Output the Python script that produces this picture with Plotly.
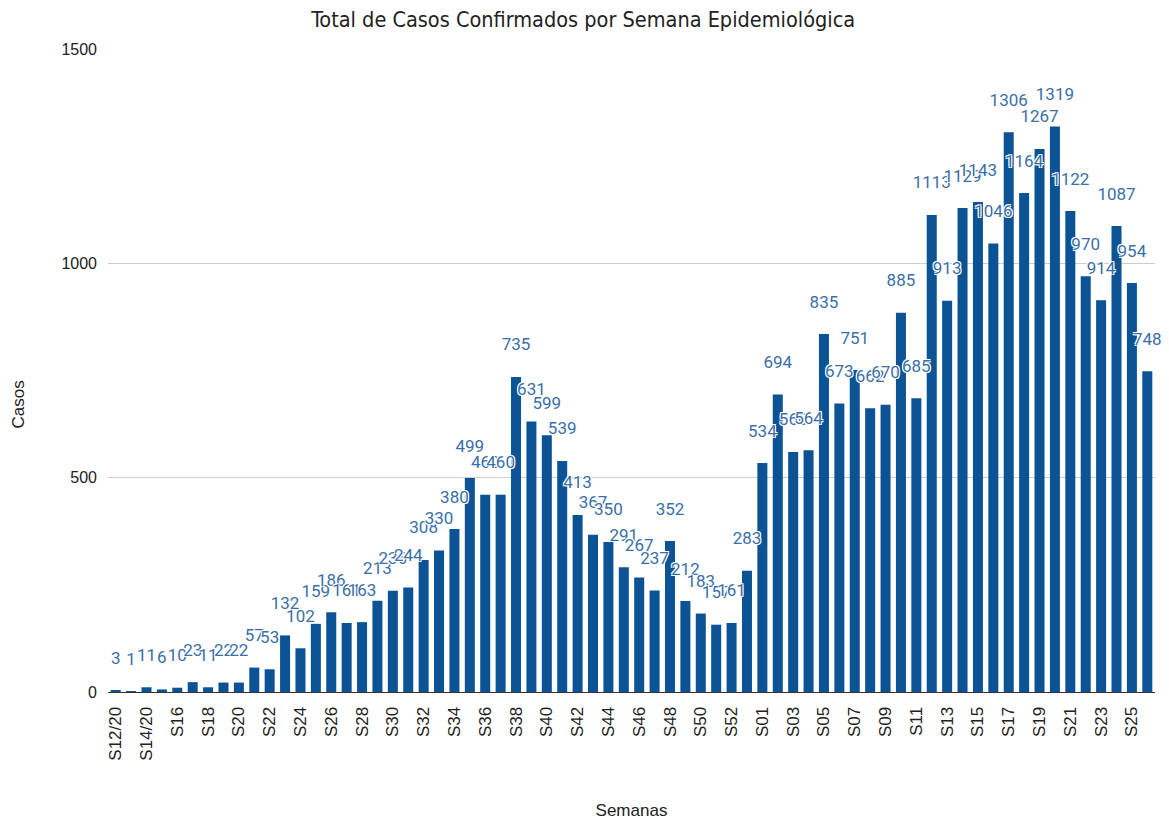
import plotly.graph_objects as go

semanas = (["S12/20", "S13/20", "S14/20"]
           + [f"S{i}/20" for i in range(15, 54)]
           + [f"S{i:02d}/21" for i in range(1, 27)])

casos = [3, 1, 11, 6, 10, 23, 11, 22, 22, 57, 53, 132, 102, 159, 186, 161, 163,
         213, 236, 244, 308, 330, 380, 499, 460, 460, 735, 631, 599, 539, 413,
         367, 350, 291, 267, 237, 352, 212, 183, 157, 161, 283,
         534, 694, 560, 564, 835, 673, 751, 662, 670, 885, 685,
         1113, 913, 1129, 1143, 1046, 1306, 1164, 1267, 1319, 1122, 970, 914,
         1087, 954, 748]

tick_vals = semanas[::2]
tick_text = [s if s in ("S12/20", "S14/20") else s.split("/")[0] for s in tick_vals]
y_ticks = [0, 500, 1000, 1500]

bar_color = "#0b5394"
label_color = "#3a6fa8"
axis_font = "Liberation Sans, Arial"

fig = go.Figure()
fig.add_trace(go.Bar(
    x=semanas, y=casos,
    marker=dict(color=bar_color, line=dict(width=0)),
    hoverinfo="x+y",
))
fig.add_trace(go.Scatter(
    x=semanas, y=casos,
    mode="markers+text",
    marker=dict(size=34, opacity=0),
    text=[str(v) for v in casos],
    textposition="top center",
    textfont=dict(family="Roboto, Liberation Sans, Arial", size=17, color=label_color,
                  shadow="-1px -1px 0 #fff, 1px -1px 0 #fff, -1px 1px 0 #fff, 1px 1px 0 #fff"),
    cliponaxis=False,
    hoverinfo="skip",
    showlegend=False,
))

fig.update_layout(
    width=1169, height=822,
    margin=dict(l=100, r=22, t=41, b=138, autoexpand=False),
    paper_bgcolor="white", plot_bgcolor="white",
    showlegend=False,
    bargap=0.35,
    title=dict(text="Total de Casos Confirmados por Semana Epidemiológica",
               x=0.492, xanchor="center", y=0.986, yanchor="middle",
               font=dict(family="DejaVu Sans Condensed, Liberation Sans Narrow, Liberation Sans, Arial",
                         size=21.5, color="#222222")),
    xaxis=dict(
        type="category",
        range=[-0.5, len(semanas) - 0.5],
        tickmode="array", tickvals=tick_vals, ticktext=tick_text,
        tickangle=-90,
        tickfont=dict(family=axis_font, size=17, color="#222222"),
        ticklabelstandoff=7,
        showgrid=False,
        showline=True, linecolor="#333333", linewidth=1,
        ticks="",
        automargin=False,
        title=dict(text="Semanas", standoff=44,
                   font=dict(family=axis_font, size=17, color="#222222")),
    ),
    yaxis=dict(
        range=[0, 1500],
        tickmode="array", tickvals=y_ticks,
        tickfont=dict(family=axis_font, size=16, color="#222222"),
        ticklabelstandoff=10,
        showgrid=True, gridcolor="#cccccc", gridwidth=1,
        zeroline=False,
        ticks="", ticklen=0,
        automargin=False,
    ),
    annotations=[dict(
        text="Casos", textangle=-90,
        xref="paper", yref="paper", x=-0.0855, y=0.448,
        xanchor="center", yanchor="middle", showarrow=False,
        font=dict(family=axis_font, size=17, color="#222222"),
    )],
)

fig.write_html("out.html")
